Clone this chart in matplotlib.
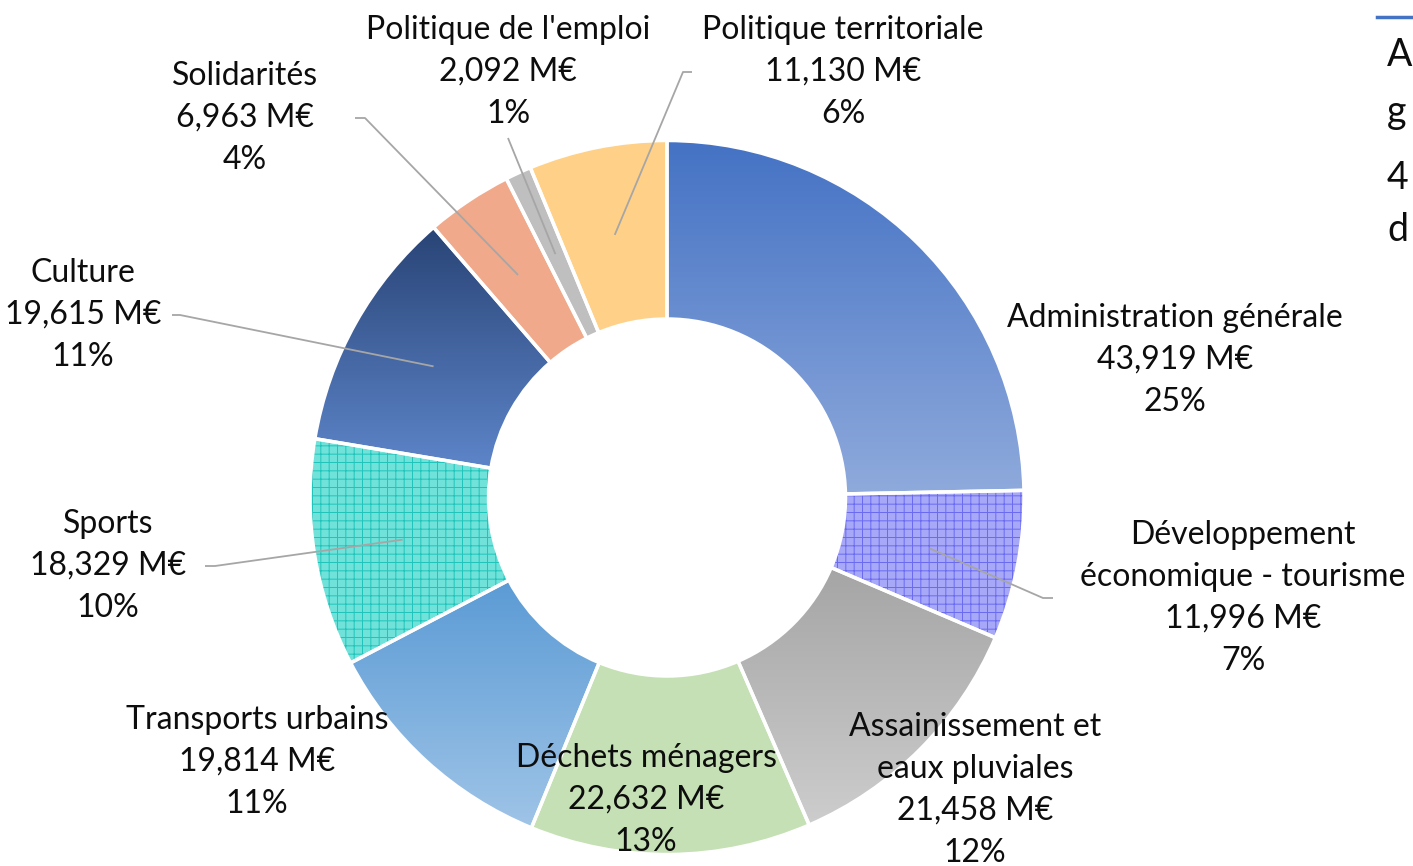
import numpy as np
import matplotlib
matplotlib.use("Agg")
import matplotlib.pyplot as plt
from matplotlib.patches import Wedge
from matplotlib.colors import LinearSegmentedColormap

plt.rcParams["font.family"] = ["Lato", "DejaVu Sans"]
plt.rcParams["hatch.linewidth"] = 0.7

# data
categories = ["Administration générale", "Développement\néconomique - tourisme",
              "Assainissement et\neaux pluviales", "Déchets ménagers", "Transports urbains",
              "Sports", "Culture", "Solidarités", "Politique de l'emploi", "Politique territoriale"]
values = [43.919, 11.996, 21.458, 22.632, 19.814, 18.329, 19.615, 6.963, 2.092, 11.130]

# fill styles: (top colour, bottom colour) gradients, solid fills or hatched fills
fills = [
    ("grad", "#4472C4", "#8FAADC"),
    ("hatch", "#A8A8F8", "#6A6AF2"),
    ("grad", "#A5A5A5", "#CDCDCD"),
    ("solid", "#C5E0B4", None),
    ("grad", "#5B9BD5", "#9FC4E7"),
    ("hatch", "#70E2DA", "#1FC4BA"),
    ("grad", "#294476", "#5D85C9"),
    ("solid", "#F0A98B", None),
    ("solid", "#BFBFBF", None),
    ("solid", "#FFD188", None),
]

# label layout in pixel coords (x centre, y centre of block), and leader stubs
label_pos = [(1175, 360), (1243, 598), (975, 790), (646, 800), (257, 762),
             (108, 566), (83, 315), (245, 118), (508, 72), (843, 72)]
# (elbow point, stub end) for labels with a leader line
leaders = {1: ((1043, 598), (1053, 598)),
           5: ((215, 566), (205, 566)),
           6: ((180, 315), (172, 315)),
           7: ((365, 118), (355, 118)),
           8: ((508, 138), (508, 138)),
           9: ((683, 72), (692, 72))}

W, H = 1413, 866
CX, CY, R = 667, 497.5, 357

fig = plt.figure(figsize=(W / 100, H / 100), dpi=100, facecolor="white")
ax = fig.add_axes([0, 0, 1, 1])


def py(y):
    return H - y


wedges, _ = ax.pie(values, startangle=90, counterclock=False, radius=R,
                   center=(CX, py(CY)), wedgeprops=dict(width=R * 0.5, linewidth=0),
                   frame=True)

total = sum(values)
for i, w in enumerate(wedges):
    kind, c1, c2 = fills[i]
    w.set_facecolor(c1)
    w.set_zorder(1)
    if kind == "grad":
        ext = w.get_path().get_extents()
        cmap = LinearSegmentedColormap.from_list(f"g{i}", [c1, c2])
        grad = np.linspace(0, 1, 256).reshape(-1, 1)
        im = ax.imshow(grad, extent=[ext.x0, ext.x1, ext.y0, ext.y1], origin="upper",
                       cmap=cmap, aspect="auto", zorder=1.5, interpolation="bilinear")
        im.set_clip_path(w)
    elif kind == "hatch":
        hw = Wedge(w.center, w.r, w.theta1, w.theta2, width=w.width,
                   facecolor="none", edgecolor=c2, hatch="++", linewidth=0, zorder=1.6)
        ax.add_patch(hw)
    ew = Wedge(w.center, w.r, w.theta1, w.theta2, width=w.width,
               facecolor="none", edgecolor="white", linewidth=2.5, zorder=2)
    ax.add_patch(ew)

    # label
    pct = round(values[i] / total * 100)
    txt = f"{categories[i]}\n{values[i]:.3f} M€\n{pct}%".replace(".", ",")
    lx, ly = label_pos[i]
    ax.text(lx, py(ly), txt, ha="center", va="center", fontsize=23,
            linespacing=1.5, color="#0d0d0d", zorder=5)

    if i in leaders:
        mid = np.deg2rad((w.theta1 + w.theta2) / 2)
        px = CX + 0.75 * R * np.cos(mid)
        pyy = py(CY) + 0.75 * R * np.sin(mid)
        (ex, ey), (sx, sy) = leaders[i]
        ax.plot([px, ex, sx], [pyy, py(ey), py(sy)], color="#A6A6A6", lw=1.3,
                zorder=4, solid_capstyle="butt")

ax.set_xlim(0, W)
ax.set_ylim(0, H)
ax.set_aspect("equal")
ax.axis("off")

# cropped neighbouring text box at the right edge
fig.add_artist(plt.Line2D([1377 / W, 1.0], [1 - 17 / H, 1 - 17 / H], color="#4472C4", lw=2.5))
for letter, yy in zip(["A", "g", "4", "d"], [55, 112, 178, 230]):
    fig.text(1387 / W, 1 - yy / H, letter, fontsize=27, ha="left", va="center", color="#0d0d0d")

fig.savefig("out.png", dpi=100, facecolor="white")
